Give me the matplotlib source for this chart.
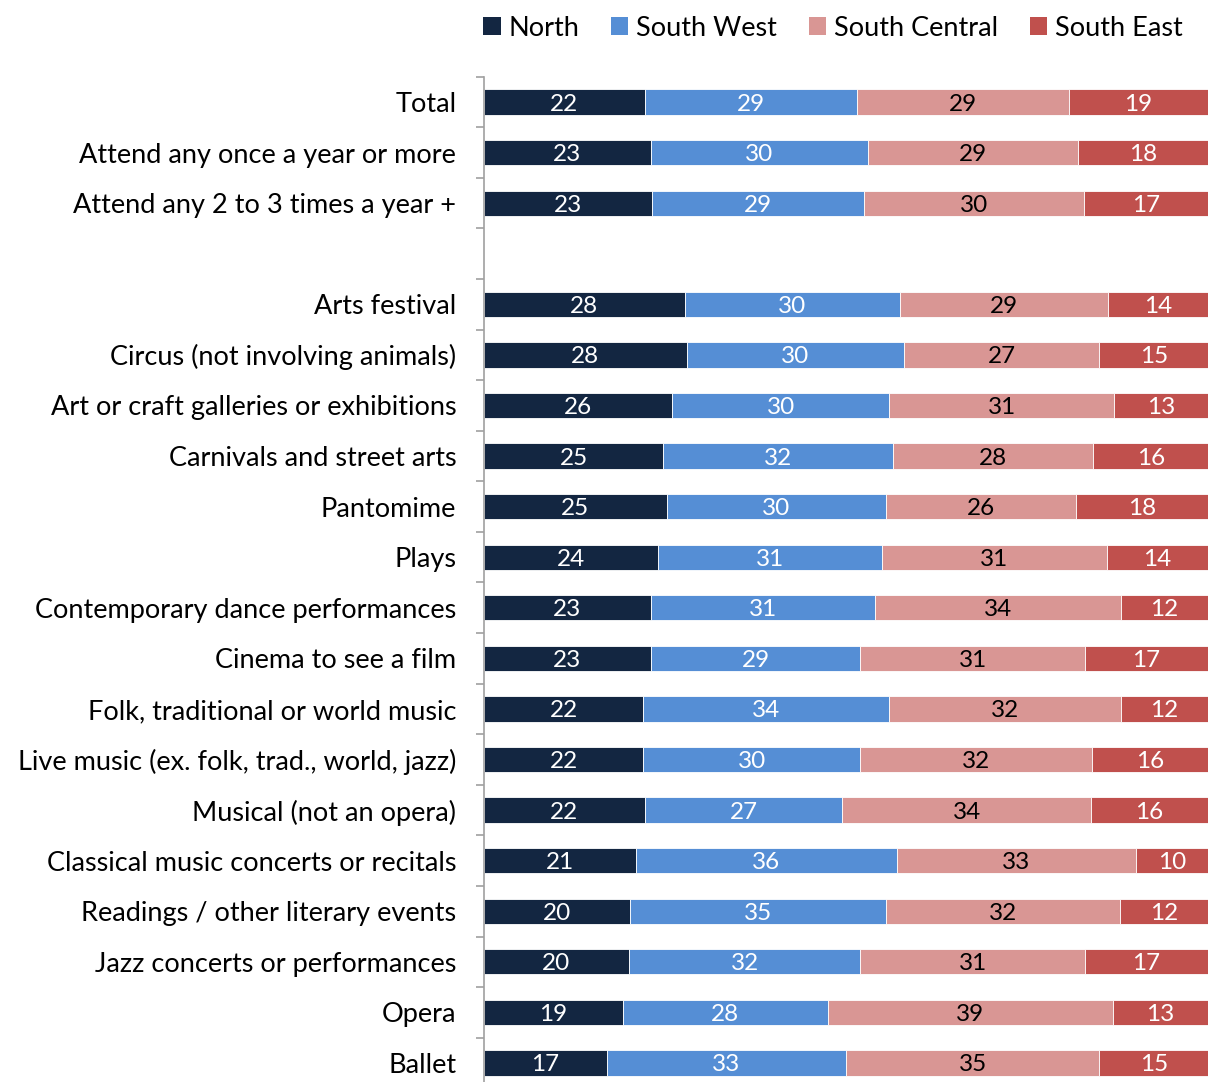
import numpy as np
import matplotlib.pyplot as plt
from matplotlib.patches import Patch

plt.rcParams['font.family'] = ['Lato', 'DejaVu Sans']

categories = [
    'Total',
    'Attend any once a year or more',
    'Attend any 2 to 3 times a year +',
    '',
    'Arts festival',
    'Circus (not involving animals)',
    'Art or craft galleries or exhibitions',
    'Carnivals and street arts',
    'Pantomime',
    'Plays',
    'Contemporary dance performances',
    'Cinema to see a film',
    'Folk, traditional or world music',
    'Live music (ex. folk, trad., world, jazz)',
    'Musical (not an opera)',
    'Classical music concerts or recitals',
    'Readings / other literary events',
    'Jazz concerts or performances',
    'Opera',
    'Ballet',
]

# None marks the spacer row between the totals and the art forms
north = [22, 23, 23, None, 28, 28, 26, 25, 25, 24, 23, 23, 22, 22, 22, 21, 20, 20, 19, 17]
south_west = [29, 30, 29, None, 30, 30, 30, 32, 30, 31, 31, 29, 34, 30, 27, 36, 35, 32, 28, 33]
south_central = [29, 29, 30, None, 29, 27, 31, 28, 26, 31, 34, 31, 32, 32, 34, 33, 32, 31, 39, 35]
south_east = [19, 18, 17, None, 14, 15, 13, 16, 18, 14, 12, 17, 12, 16, 16, 10, 12, 17, 13, 15]

regions = ['North', 'South West', 'South Central', 'South East']
colors = ['#132641', '#558ed5', '#d99694', '#c0504d']
text_colors = ['white', 'white', 'black', 'white']

series = [north, south_west, south_central, south_east]

fig = plt.figure(figsize=(12.11, 10.82), dpi=100)
ax = fig.add_axes([0.3997, -0.0058, 0.5978, 0.9349])

n = len(categories)
y = np.arange(n)
left = np.zeros(n)
row_tot = np.array([sum(s[i] for s in series) if north[i] is not None else 1
                    for i in range(n)], dtype=float)

for vals, col, tc in zip(series, colors, text_colors):
    v = np.array([0 if x is None else x for x in vals], dtype=float)
    w = v / row_tot * 100
    ax.barh(y, w, left=left, height=0.5, color=col, edgecolor='white', linewidth=0.6)
    for i in range(n):
        if vals[i] is not None:
            ax.text(left[i] + w[i] / 2, y[i], str(vals[i]), ha='center',
                    va='center_baseline', color=tc, fontsize=17.5)
    left += w

ax.set_xlim(0, 100)
ax.set_ylim(n - 0.5, -0.5)
ax.set_xticks([])
ax.set_yticks(y)
ax.set_yticklabels(categories, fontsize=19.5)
ax.tick_params(axis='y', length=0, pad=20)
# tick marks sit between categories
ax.set_yticks(np.arange(-0.5, n, 1), minor=True)
ax.tick_params(axis='y', which='minor', length=6, color='#a0a0a0', width=1.2)
for s in ['top', 'right', 'bottom']:
    ax.spines[s].set_visible(False)
ax.spines['left'].set_color('#a0a0a0')
ax.spines['left'].set_linewidth(1.2)

handles = [Patch(facecolor=c, label=r) for c, r in zip(colors, regions)]
fig.legend(handles=handles, loc='upper right', bbox_to_anchor=(0.997, 1.008), ncol=4,
           frameon=False, fontsize=19.5, handlelength=0.65, handleheight=0.65,
           handletextpad=0.3, columnspacing=1.15)

fig.savefig('out.png', dpi=100)
